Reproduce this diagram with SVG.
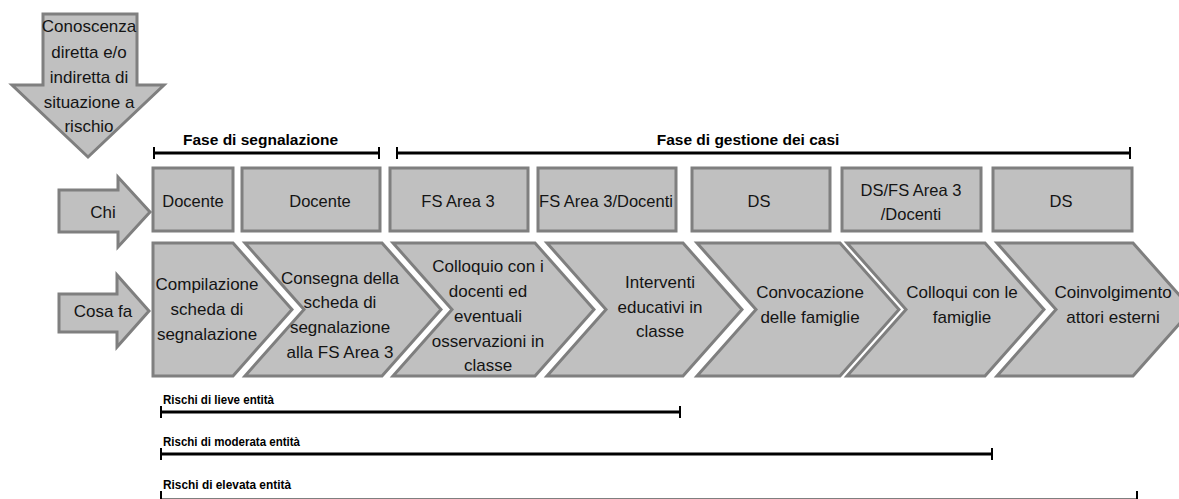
<svg xmlns="http://www.w3.org/2000/svg" width="1179" height="499" viewBox="0 0 1179 499">
<style>
.shape{fill:#c0c0c0;stroke:#7f7f7f;stroke-width:3;stroke-linejoin:miter}
.t{font-family:"Liberation Sans",Arial,sans-serif;font-size:17px;fill:#141414;text-anchor:middle}
.tb{font-size:16.5px}
.lbl{font-family:"Liberation Sans",Arial,sans-serif;font-weight:bold;font-size:15.5px;fill:#000}
.rl{font-family:"Liberation Sans",Arial,sans-serif;font-weight:bold;font-size:13.5px;fill:#000}
.bar{stroke:#000;stroke-width:3;fill:none}
.tick{stroke:#000;stroke-width:2;fill:none}
</style>
<rect width="1179" height="499" fill="#fff"/>

<g id="start">
<polygon class="shape" points="43,14 137,14 137,85 164,85 88,157 12,85 43,85"/>
<text class="t" x="89" y="31.5">Conoscenza</text>
<text class="t" x="89" y="58">diretta e/o</text>
<text class="t" x="89" y="83">indiretta di</text>
<text class="t" x="89" y="107.5">situazione a</text>
<text class="t" x="89" y="132">rischio</text>
</g>

<g id="chi">
<polygon class="shape" points="59,190 118,190 118,177 150,212 118,247 118,232 59,232"/>
<text class="t" x="103" y="218">Chi</text>
</g>
<g id="cosafa">
<polygon class="shape" points="59,294 117,294 117,275 149,311 117,347 117,332 59,332"/>
<text class="t" x="103" y="317">Cosa fa</text>
</g>

<g id="who1"><rect class="shape" x="153" y="168" width="80" height="63"/><text class="t tb" x="193" y="207">Docente</text></g>
<g id="who2"><rect class="shape" x="242" y="168" width="138" height="63"/><text class="t tb" x="320" y="207">Docente</text></g>
<g id="who3"><rect class="shape" x="390" y="168" width="138" height="63"/><text class="t tb" x="458" y="207">FS Area 3</text></g>
<g id="who4"><rect class="shape" x="538" y="168" width="138" height="63"/><text class="t tb" x="606" y="207">FS Area 3/Docenti</text></g>
<g id="who5"><rect class="shape" x="692" y="168" width="138" height="63"/><text class="t tb" x="759" y="207">DS</text></g>
<g id="who6"><rect class="shape" x="842" y="168" width="139" height="63"/><text class="t tb" x="911" y="196">DS/FS Area 3</text><text class="t tb" x="911" y="220">/Docenti</text></g>
<g id="who7"><rect class="shape" x="993" y="168" width="139" height="63"/><text class="t tb" x="1061" y="207">DS</text></g>

<g id="step1"><polygon class="shape" points="153,243 233,243 292,309.5 233,376 153,376"/>
<text class="t" x="207" y="290">Compilazione</text><text class="t" x="207" y="315">scheda di</text><text class="t" x="207" y="340">segnalazione</text></g>
<g id="step2"><polygon class="shape" points="245,243 382,243 441,309.5 382,376 245,376 304,309.5"/>
<text class="t" x="340" y="284">Consegna della</text><text class="t" x="340" y="308">scheda di</text><text class="t" x="340" y="333">segnalazione</text><text class="t" x="340" y="358">alla FS Area 3</text></g>
<g id="step3"><polygon class="shape" points="393,243 535,243 594,309.5 535,376 393,376 452,309.5"/>
<text class="t" x="488" y="272">Colloquio con i</text><text class="t" x="488" y="297">docenti ed</text><text class="t" x="488" y="322">eventuali</text><text class="t" x="488" y="347">osservazioni in</text><text class="t" x="488" y="371">classe</text></g>
<g id="step4"><polygon class="shape" points="547,243 683,243 742,309.5 683,376 547,376 606,309.5"/>
<text class="t" x="660" y="288">Interventi</text><text class="t" x="660" y="313">educativi in</text><text class="t" x="660" y="337">classe</text></g>
<g id="step5"><polygon class="shape" points="697,243 840,243 899,309.5 840,376 697,376 756,309.5"/>
<text class="t" x="810" y="298">Convocazione</text><text class="t" x="810" y="323">delle famiglie</text></g>
<g id="step6"><polygon class="shape" points="847,243 985,243 1044,309.5 985,376 847,376 906,309.5"/>
<text class="t" x="962" y="298">Colloqui con le</text><text class="t" x="962" y="323">famiglie</text></g>
<g id="step7"><polygon class="shape" points="997,243 1133,243 1192,309.5 1133,376 997,376 1056,309.5"/>
<text class="t" x="1113" y="298">Coinvolgimento</text><text class="t" x="1113" y="323">attori esterni</text></g>

<g id="connectors">
<path class="bar" d="M153,153 H380"/><path class="tick" d="M154,147 V159 M379,147 V159"/>
<path class="bar" d="M396,153 H1131"/><path class="tick" d="M397,147 V159 M1130,147 V159"/>
<path class="bar" d="M160,412 H681"/><path class="tick" d="M161,406 V418 M680,406 V418"/>
<path class="bar" d="M160,454 H993"/><path class="tick" d="M161,448 V460 M992,448 V460"/>
<path class="bar" d="M160,500 H1138"/><path class="tick" d="M161,491 V500 M1137,491 V500"/>
</g>

<g id="labels">
<text class="lbl" x="183" y="145">Fase di segnalazione</text>
<text class="lbl" x="748" y="145" text-anchor="middle">Fase di gestione dei casi</text>
<text class="rl" x="163" y="404" textLength="111" lengthAdjust="spacingAndGlyphs">Rischi di lieve entità</text>
<text class="rl" x="163" y="446" textLength="137" lengthAdjust="spacingAndGlyphs">Rischi di moderata entità</text>
<text class="rl" x="163" y="489" textLength="128" lengthAdjust="spacingAndGlyphs">Rischi di elevata entità</text>
</g>
</svg>
